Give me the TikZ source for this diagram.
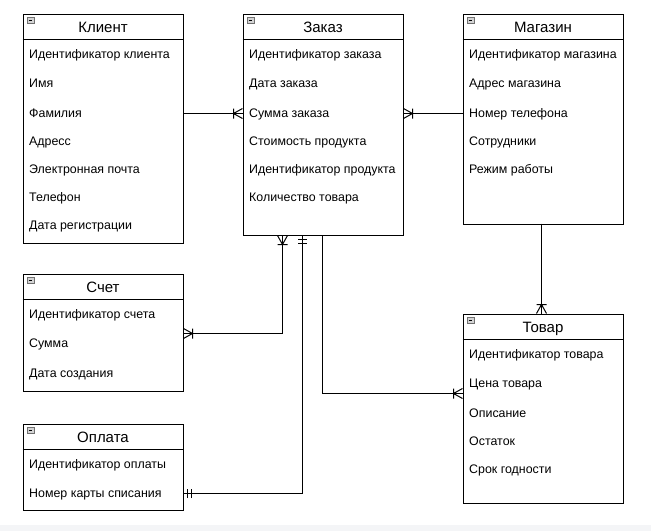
\documentclass[tikz,border=0pt]{standalone}
\usepackage{fontspec}
\setmainfont{Liberation Sans}
\usetikzlibrary{calc}
\definecolor{stripcol}{HTML}{F4F5F7}
\definecolor{iconfill}{HTML}{D4D4D4}
\definecolor{iconline}{HTML}{707070}
\newcommand{\crowM}[3]{%
  \draw[conn] ($(#1)+({-9*#2},{-9*#3})$) -- ($(#1)+({5*#3},{-5*#2})$)
              ($(#1)+({-9*#2},{-9*#3})$) -- ($(#1)+({-5*#3},{5*#2})$)
              ($(#1)+({-9*#2+5*#3},{-9*#3-5*#2})$) -- ($(#1)+({-9*#2-5*#3},{-9*#3+5*#2})$);}
\newcommand{\oneM}[3]{%
  \draw[conn] ($(#1)+({-4*#2+4.5*#3},{-4*#3-4.5*#2})$) -- ($(#1)+({-4*#2-4.5*#3},{-4*#3+4.5*#2})$)
              ($(#1)+({-7.5*#2+4.5*#3},{-7.5*#3-4.5*#2})$) -- ($(#1)+({-7.5*#2-4.5*#3},{-7.5*#3+4.5*#2})$);}
\newcommand{\enticon}[1]{%
  \node[icon] at ($(#1.north west)+(8,6.5)$) {};
  \draw[line width=0.7pt] ($(#1.north west)+(6.2,6.5)$) -- ($(#1.north west)+(9.8,6.5)$);}
\begin{document}
\begin{tikzpicture}[x=1pt,y=-1pt,
  ent/.style={draw=black, line width=1pt, minimum width=160pt, anchor=north west, inner sep=0pt, fill=white},
  ttl/.style={font=\fontsize{15}{18}\selectfont, inner sep=0pt, anchor=base},
  fld/.style={font=\fontsize{12.4}{15}\selectfont, anchor=base west, inner sep=0pt},
  conn/.style={line width=1pt},
  icon/.style={draw=iconline, fill=iconfill, minimum size=6.5pt, inner sep=0pt, line width=0.5pt}
]
\useasboundingbox (0,0) rectangle (651,531);
\fill[white] (0,0) rectangle (651,531);
\fill[stripcol] (0,525) rectangle (651,531);

% ---------- entities ----------
\node[ent, minimum height=229pt] (klient) at (22.5,13.5) {};
\node[ent, minimum height=221pt] (zakaz) at (242.5,13.5) {};
\node[ent, minimum height=210pt] (magazin) at (462.5,13.5) {};
\node[ent, minimum height=117pt] (schet) at (22.5,273.5) {};
\node[ent, minimum height=189pt] (tovar) at (462.5,313.5) {};
\node[ent, minimum height=86pt] (oplata) at (22.5,423.5) {};

\foreach \e in {klient,zakaz,magazin,schet,tovar,oplata}{
  \draw[line width=1pt] ($(\e.north west)+(0,26)$) -- ($(\e.north east)+(0,26)$);
  \enticon{\e}
}

\node[ttl] (klientT) at ($(klient.north)+(0,18.5)$) {Клиент};
\node[ttl] (zakazT) at ($(zakaz.north)+(0,18.5)$) {Заказ};
\node[ttl] (magazinT) at ($(magazin.north)+(0,18.5)$) {Магазин};
\node[ttl] (schetT) at ($(schet.north)+(0,18.5)$) {Счет};
\node[ttl] (tovarT) at ($(tovar.north)+(0,18.5)$) {Товар};
\node[ttl] (oplataT) at ($(oplata.north)+(0,18.5)$) {Оплата};

% Клиент fields
\node[fld] (k1) at (29,58) {Идентификатор клиента};
\node[fld] (k2) at (29,87) {Имя};
\node[fld] (k3) at (29,117) {Фамилия};
\node[fld] (k4) at (29,145) {Адресс};
\node[fld] (k5) at (29,173) {Электронная почта};
\node[fld] (k6) at (29,201) {Телефон};
\node[fld] (k7) at (29,229) {Дата регистрации};
% Заказ fields
\node[fld] (z1) at (249,58) {Идентификатор заказа};
\node[fld] (z2) at (249,87) {Дата заказа};
\node[fld] (z3) at (249,117) {Сумма заказа};
\node[fld] (z4) at (249,145) {Стоимость продукта};
\node[fld] (z5) at (249,173) {Идентификатор продукта};
\node[fld] (z6) at (249,201) {Количество товара};
% Магазин fields
\node[fld] (m1) at (469,58) {Идентификатор магазина};
\node[fld] (m2) at (469,87) {Адрес магазина};
\node[fld] (m3) at (469,117) {Номер телефона};
\node[fld] (m4) at (469,145) {Сотрудники};
\node[fld] (m5) at (469,173) {Режим работы};
% Счет fields
\node[fld] (s1) at (29,318) {Идентификатор счета};
\node[fld] (s2) at (29,347) {Сумма};
\node[fld] (s3) at (29,377) {Дата создания};
% Товар fields
\node[fld] (t1) at (469,358) {Идентификатор товара};
\node[fld] (t2) at (469,387) {Цена товара};
\node[fld] (t3) at (469,417) {Описание};
\node[fld] (t4) at (469,445) {Остаток};
\node[fld] (t5) at (469,473) {Срок годности};
% Оплата fields
\node[fld] (o1) at (29,468) {Идентификатор оплаты};
\node[fld] (o2) at (29,497) {Номер карты списания};

% ---------- connectors ----------
\coordinate (kz1) at (klient.east |- 0,113.5);
\coordinate (kz2) at (zakaz.west |- 0,113.5);
\draw[conn] (kz1) -- (kz2);
\crowM{kz2}{1}{0}

\coordinate (mz1) at (magazin.west |- 0,113.5);
\coordinate (mz2) at (zakaz.east |- 0,113.5);
\draw[conn] (mz1) -- (mz2);
\crowM{mz2}{-1}{0}

\coordinate (zb1) at ($(zakaz.south west)+(40,0)$);
\coordinate (zb2) at ($(zakaz.south west)+(60,0)$);
\coordinate (zb3) at ($(zakaz.south west)+(80,0)$);

\coordinate (se) at (schet.east |- 0,333.5);
\draw[conn] (zb1) |- (se);
\crowM{zb1}{0}{-1}
\crowM{se}{-1}{0}

\coordinate (oe) at (oplata.east |- 0,493.5);
\draw[conn] (zb2) |- (oe);
\oneM{zb2}{0}{-1}
\oneM{oe}{-1}{0}

\coordinate (tw) at (tovar.west |- 0,393.5);
\draw[conn] (zb3) |- (tw);
\crowM{tw}{1}{0}

\coordinate (ms) at (541.5,223.5);
\coordinate (tn) at (541.5,313.5);
\draw[conn] (ms) -- (tn);
\crowM{tn}{0}{1}
\end{tikzpicture}
\end{document}
